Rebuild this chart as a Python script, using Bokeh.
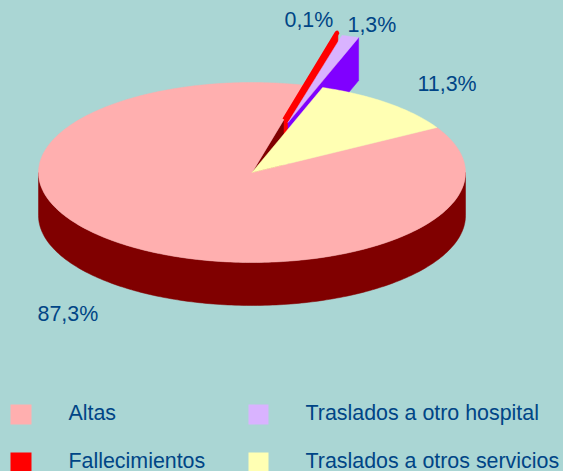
import math
from bokeh.plotting import figure
from bokeh.embed import file_html
from bokeh.resources import INLINE
from bokeh.core.properties import value

# Data
categories = ["Altas", "Fallecimientos", "Traslados a otro hospital", "Traslados a otros servicios"]
labels = ["87,3%", "0,1%", "1,3%", "11,3%"]
shares = [87.3, 0.1, 1.3, 11.3]
top_colors = ["#FFAFAF", "#FF0000", "#D9B3FF", "#FFFFB3"]
side_colors = ["#800000", "#FF0000", "#8000FF", "#FFFFB3"]

# Layout
BG = "#AAD6D4"; INK = "#004586"
FONT = value("Liberation Sans"); FS = "21.4px"
CX, CY, RX, RY, DEPTH = 251.5, 172, 213.5, 90, 43
START = 30.0
EXPLODE = {"Fallecimientos": (32, -53), "Traslados a otro hospital": (36, -50)}
LABEL_POS = [(37, 313), (284, 19), (347, 24), (417, 83)]
LEGEND_POS = [(10, 404, 21, 68), (10, 452, 21, 68), (248, 404, 20, 305), (248, 452, 20, 305)]

p = figure(width=563, height=471, x_range=(0, 563), y_range=(471, 0),
           toolbar_location=None, output_backend="svg", min_border=0,
           background_fill_color=BG, border_fill_color=BG, outline_line_color=None)
p.axis.visible = False
p.grid.visible = False

def arc(t0, t1, dx=0, dy=0):
    n = max(2, int(abs(t1 - t0)) + 2)
    ts = [math.radians(t0 + (t1 - t0) * i / (n - 1)) for i in range(n)]
    return [CX + dx + RX * math.cos(t) for t in ts], [CY + dy - RY * math.sin(t) for t in ts]

# angle spans, counter-clockwise from START: yellow, lilac, red, then Altas
spans = {}
a = START
for i in (3, 2, 1, 0):
    s = shares[i] * 3.6
    spans[i] = (a, a + s)
    a += s

def shape(xs, ys, col, lw=0.5):
    p.patch(xs, ys, fill_color=col, line_color=col, line_width=lw, line_join="bevel")

def face(i):
    dx, dy = EXPLODE[categories[i]]
    rx, ry = arc(spans[i][0], spans[i][0], dx, dy)
    ax, ay = CX + dx, CY + dy
    shape([ax, rx[0], rx[0], ax], [ay, ry[0], ry[0] + DEPTH, ay + DEPTH], side_colors[i])

def top(i, lw=0.5):
    dx, dy = EXPLODE.get(categories[i], (0, 0))
    xs, ys = arc(*spans[i], dx, dy)
    shape([CX + dx] + xs, [CY + dy] + ys, top_colors[i], lw)

# Altas: outer wall and inner cut face
xa, ya = arc(180, 360)
shape(xa + xa[::-1], ya + [y + DEPTH for y in ya[::-1]], side_colors[0])
rx, ry = arc(spans[0][0], spans[0][0])
shape([CX, rx[0], rx[0], CX], [CY, ry[0], ry[0] + DEPTH, CY + DEPTH], side_colors[0])

# exploded faces go under the main disc
face(1)
face(2)
top(0)

# exploded tops
top(1, lw=3.5)
top(2)

# yellow slice
top(3)

# labels
for lab, (x, y) in zip(labels, LABEL_POS):
    p.text([x], [y], text=[lab], text_font=FONT, text_font_size=FS,
           text_color=INK, text_align="left", text_baseline="middle")

# legend
for cat, col, (sx, sy, w, tx) in zip(categories, top_colors, LEGEND_POS):
    p.quad(left=[sx], right=[sx + w], top=[sy], bottom=[sy + 20], fill_color=col, line_color=None)
    p.text([tx], [sy + 8], text=[cat], text_font=FONT, text_font_size=FS,
           text_color=INK, text_align="left", text_baseline="middle")

html = file_html(p, INLINE)
html = html.replace("<head>", f"<head><style>html,body{{margin:0;padding:0;overflow:hidden;background:{BG}}}</style>", 1)
open("out.html", "w").write(html)
